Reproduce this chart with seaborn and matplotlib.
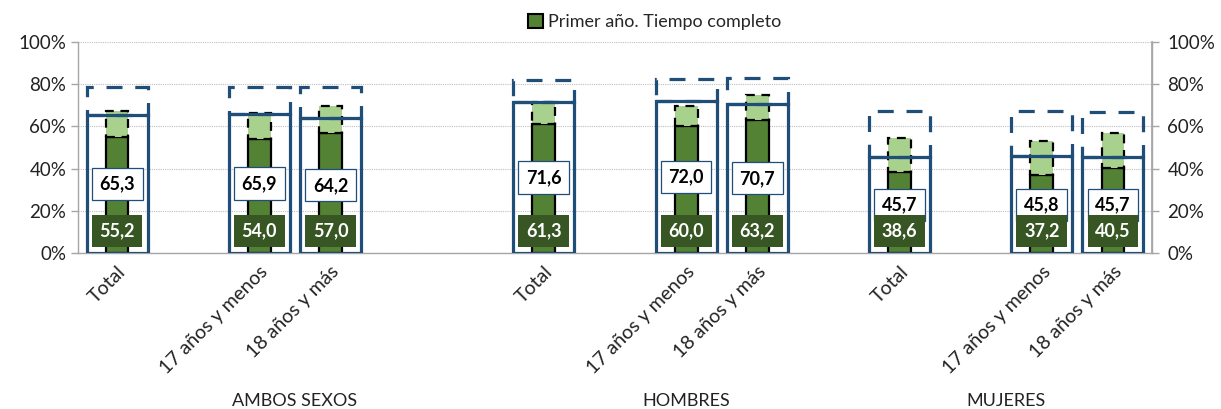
import numpy as np
import pandas as pd
import matplotlib
matplotlib.use('Agg')
import matplotlib.pyplot as plt
from matplotlib.patches import Patch
import seaborn as sns

# data
categories = ['Total', '17 años y menos', '18 años y más'] * 3
groups = ['AMBOS SEXOS', 'HOMBRES', 'MUJERES']
primer_ano = [55.2, 54.0, 57.0, 61.3, 60.0, 63.2, 38.6, 37.2, 40.5]
primer_ano_tope = [67.4, 66.5, 69.8, 71.5, 69.5, 74.9, 54.3, 53.1, 56.7]
total_caja = [65.3, 65.9, 64.2, 71.6, 72.0, 70.7, 45.7, 45.8, 45.7]
total_tope = [78.6, 78.6, 78.9, 82.2, 82.5, 83.0, 67.4, 67.4, 67.0]
y_ticks = [0, 20, 40, 60, 80, 100]
legend_label = 'Primer año. Tiempo completo'

# layout (category slots, excel style with blank slots between groups)
slots = [0, 2, 3, 6, 8, 9, 11, 13, 14]
group_centers = [2.5, 8, 12.5]

GREEN = '#548235'
LIGHT = '#A9D18E'
DARK = '#375623'
BLUE = '#1F4E79'
GREY = '#A6A6A6'


def fmt(v):
    return f"{v:.1f}".replace('.', ',')


sns.set_theme(style='white')
plt.rcParams['font.family'] = ['Lato', 'DejaVu Sans']

fig = plt.figure(figsize=(12.21, 4.09), dpi=100)
ax = fig.add_axes([78 / 1221, 1 - 253 / 409, 1074 / 1221, 211 / 409])

df = pd.DataFrame({'pos': slots, 'valor': primer_ano, 'cat': categories})

# dark green main bars
sns.barplot(data=df, x='pos', y='valor', native_scale=True, width=0.32,
            color=GREEN, saturation=1, edgecolor='black', linewidth=1.6,
            errorbar=None, ax=ax, zorder=2)

# light green stacked part, dashed outline
ext = np.array(primer_ano_tope) - np.array(primer_ano)
ax.bar(slots, ext, bottom=primer_ano, width=0.32, color=LIGHT,
       edgecolor='black', linewidth=1.6, linestyle=(0, (4, 3)), zorder=2)

# blue solid boxes
ax.bar(slots, total_caja, width=0.86, fill=False, edgecolor=BLUE,
       linewidth=2.3, zorder=3)

# blue dashed boxes stacked on top
ext2 = np.array(total_tope) - np.array(total_caja)
ax.bar(slots, ext2, bottom=total_caja, width=0.86, fill=False, edgecolor=BLUE,
       linewidth=2.3, linestyle=(0, (5, 4)), zorder=3)

# value labels
for x, v, g in zip(slots, total_caja, primer_ano):
    ax.text(x, v / 2, fmt(v), ha='center', va='center', fontsize=13,
            fontweight='bold', color='black', zorder=6,
            bbox=dict(boxstyle='square,pad=0.42', facecolor='white',
                      edgecolor=BLUE, linewidth=0.9))
    ax.text(x, 10.5, fmt(g), ha='center', va='center', fontsize=13,
            fontweight='bold', color='white', zorder=6,
            bbox=dict(boxstyle='square,pad=0.42', facecolor=DARK,
                      edgecolor='none'))

ax.set_xlim(-0.55, 14.55)
ax.set_ylim(0, 100)
ax.set_yticks(y_ticks)
ax.set_yticklabels([f"{t}%" for t in y_ticks], fontsize=13.5, color='#222222')
ax.set_xticks(slots)
ax.set_xticklabels(categories, rotation=45, ha='right', rotation_mode='anchor',
                   fontsize=14, color='#222222')
ax.set_xlabel('')
ax.set_ylabel('')
ax.tick_params(axis='x', length=0, pad=7)
ax.tick_params(axis='y', length=5, width=1, color=GREY, left=True)

ax.set_axisbelow(True)
ax.yaxis.grid(True, color='#BFBFBF', linestyle=(0, (1, 1)), linewidth=0.8)
for side in ['left', 'bottom', 'right']:
    ax.spines[side].set_color(GREY)
    ax.spines[side].set_linewidth(1)
ax.spines['top'].set_visible(False)

ax2 = ax.twinx()
ax2.set_ylim(0, 100)
ax2.set_yticks(y_ticks)
ax2.set_yticklabels([f"{t}%" for t in y_ticks], fontsize=13.5, color='#222222')
ax2.tick_params(axis='y', length=5, width=1, color=GREY, right=True, pad=6)
for side in ['left', 'bottom', 'top']:
    ax2.spines[side].set_visible(False)
ax2.spines['right'].set_color(GREY)
ax2.grid(False)

trans = ax.get_xaxis_transform()
for c, g in zip(group_centers, groups):
    ax.text(c, -0.70, g, transform=trans, ha='center', va='center',
            fontsize=13, color='#222222')

fig.legend(handles=[Patch(facecolor=GREEN, edgecolor='black', linewidth=1.5)],
           labels=[legend_label], loc='center',
           bbox_to_anchor=(655 / 1221, 1 - 22 / 409), frameon=False,
           handlelength=0.8, handleheight=0.8, handletextpad=0.3, fontsize=13)

fig.savefig('out.png', dpi=100)
